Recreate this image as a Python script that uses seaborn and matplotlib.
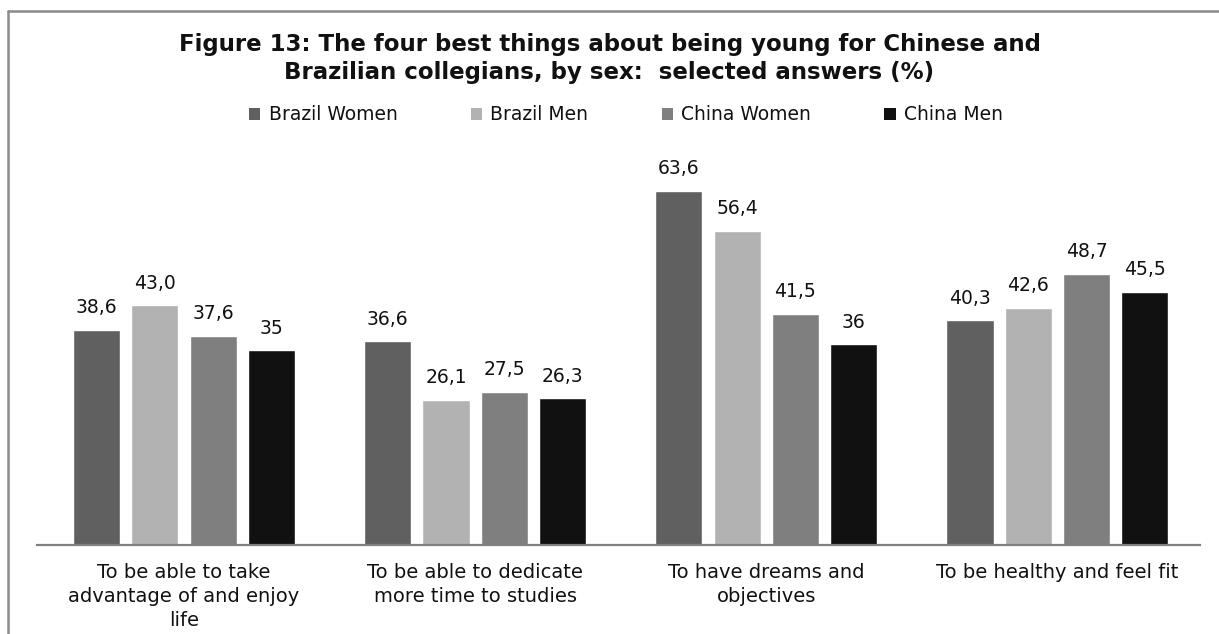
import matplotlib
matplotlib.use("Agg")
import matplotlib.pyplot as plt
from matplotlib.lines import Line2D
from matplotlib.patches import Patch
import seaborn as sns
import pandas as pd

categories = [
    "To be able to take\nadvantage of and enjoy\nlife",
    "To be able to dedicate\nmore time to studies",
    "To have dreams and\nobjectives",
    "To be healthy and feel fit",
]
series = ["Brazil Women", "Brazil Men", "China Women", "China Men"]
brazil_women = [38.6, 36.6, 63.6, 40.3]
brazil_men = [43.0, 26.1, 56.4, 42.6]
china_women = [37.6, 27.5, 41.5, 48.7]
china_men = [35.0, 26.3, 36.0, 45.5]
value_labels = [
    ["38,6", "36,6", "63,6", "40,3"],
    ["43,0", "26,1", "56,4", "42,6"],
    ["37,6", "27,5", "41,5", "48,7"],
    ["35", "26,3", "36", "45,5"],
]
colors = ["#606060", "#b2b2b2", "#7f7f7f", "#111111"]

rows = []
for s, vals in zip(series, [brazil_women, brazil_men, china_women, china_men]):
    for c, v in zip(categories, vals):
        rows.append({"category": c, "series": s, "value": v})
df = pd.DataFrame(rows)

sns.set_theme(style="white")
plt.rcParams["font.family"] = ["DejaVu Sans"]

fig = plt.figure(figsize=(12.19, 6.34), dpi=100)
ax = fig.add_axes([37 / 1219, 89 / 634, 1163 / 1219, 390 / 634])

sns.barplot(data=df, x="category", y="value", hue="series", order=categories,
            hue_order=series, palette=colors, saturation=1, width=0.8, gap=0.19,
            ax=ax, legend=False)

for cont, labs in zip(ax.containers, value_labels):
    ax.bar_label(cont, labels=labs, padding=9, fontsize=13.5, color="#111111")

ax.set_ylim(0, 70)
ax.set_xlim(-0.505, 3.49)
ax.set_xlabel("")
ax.set_ylabel("")
ax.set_yticks([])
ax.tick_params(axis="x", length=0, pad=13, labelsize=14, colors="#111111")
for lab in ax.get_xticklabels():
    lab.set_linespacing(1.32)
for sp in ["top", "left", "right"]:
    ax.spines[sp].set_visible(False)
ax.spines["bottom"].set_color("#808080")
ax.spines["bottom"].set_linewidth(1.6)

fig.text(0.5, 1 - 45 / 634,
         "Figure 13: The four best things about being young for Chinese and",
         ha="center", va="center", fontsize=16.5, fontweight="bold", color="#111111")
fig.text(0.5, 1 - 73 / 634,
         "Brazilian collegians, by sex:  selected answers (%)",
         ha="center", va="center", fontsize=16.5, fontweight="bold", color="#111111")

handles = [Patch(facecolor=c, edgecolor="none") for c in colors]
fig.legend(handles, series, loc="center", bbox_to_anchor=(626 / 1219, 1 - 115 / 634),
           ncol=4, frameon=False, fontsize=13.5, handlelength=0.6, handleheight=0.6,
           handletextpad=0.45, columnspacing=3.9, labelcolor="#111111")

fig.add_artist(Line2D([8 / 1219, 1], [1 - 11 / 634, 1 - 11 / 634],
                      transform=fig.transFigure, color="#8a8a8a", linewidth=1.8))
fig.add_artist(Line2D([8 / 1219, 8 / 1219], [0, 1 - 11 / 634],
                      transform=fig.transFigure, color="#8a8a8a", linewidth=1.8))

fig.savefig("out.png", dpi=100, facecolor="white")
